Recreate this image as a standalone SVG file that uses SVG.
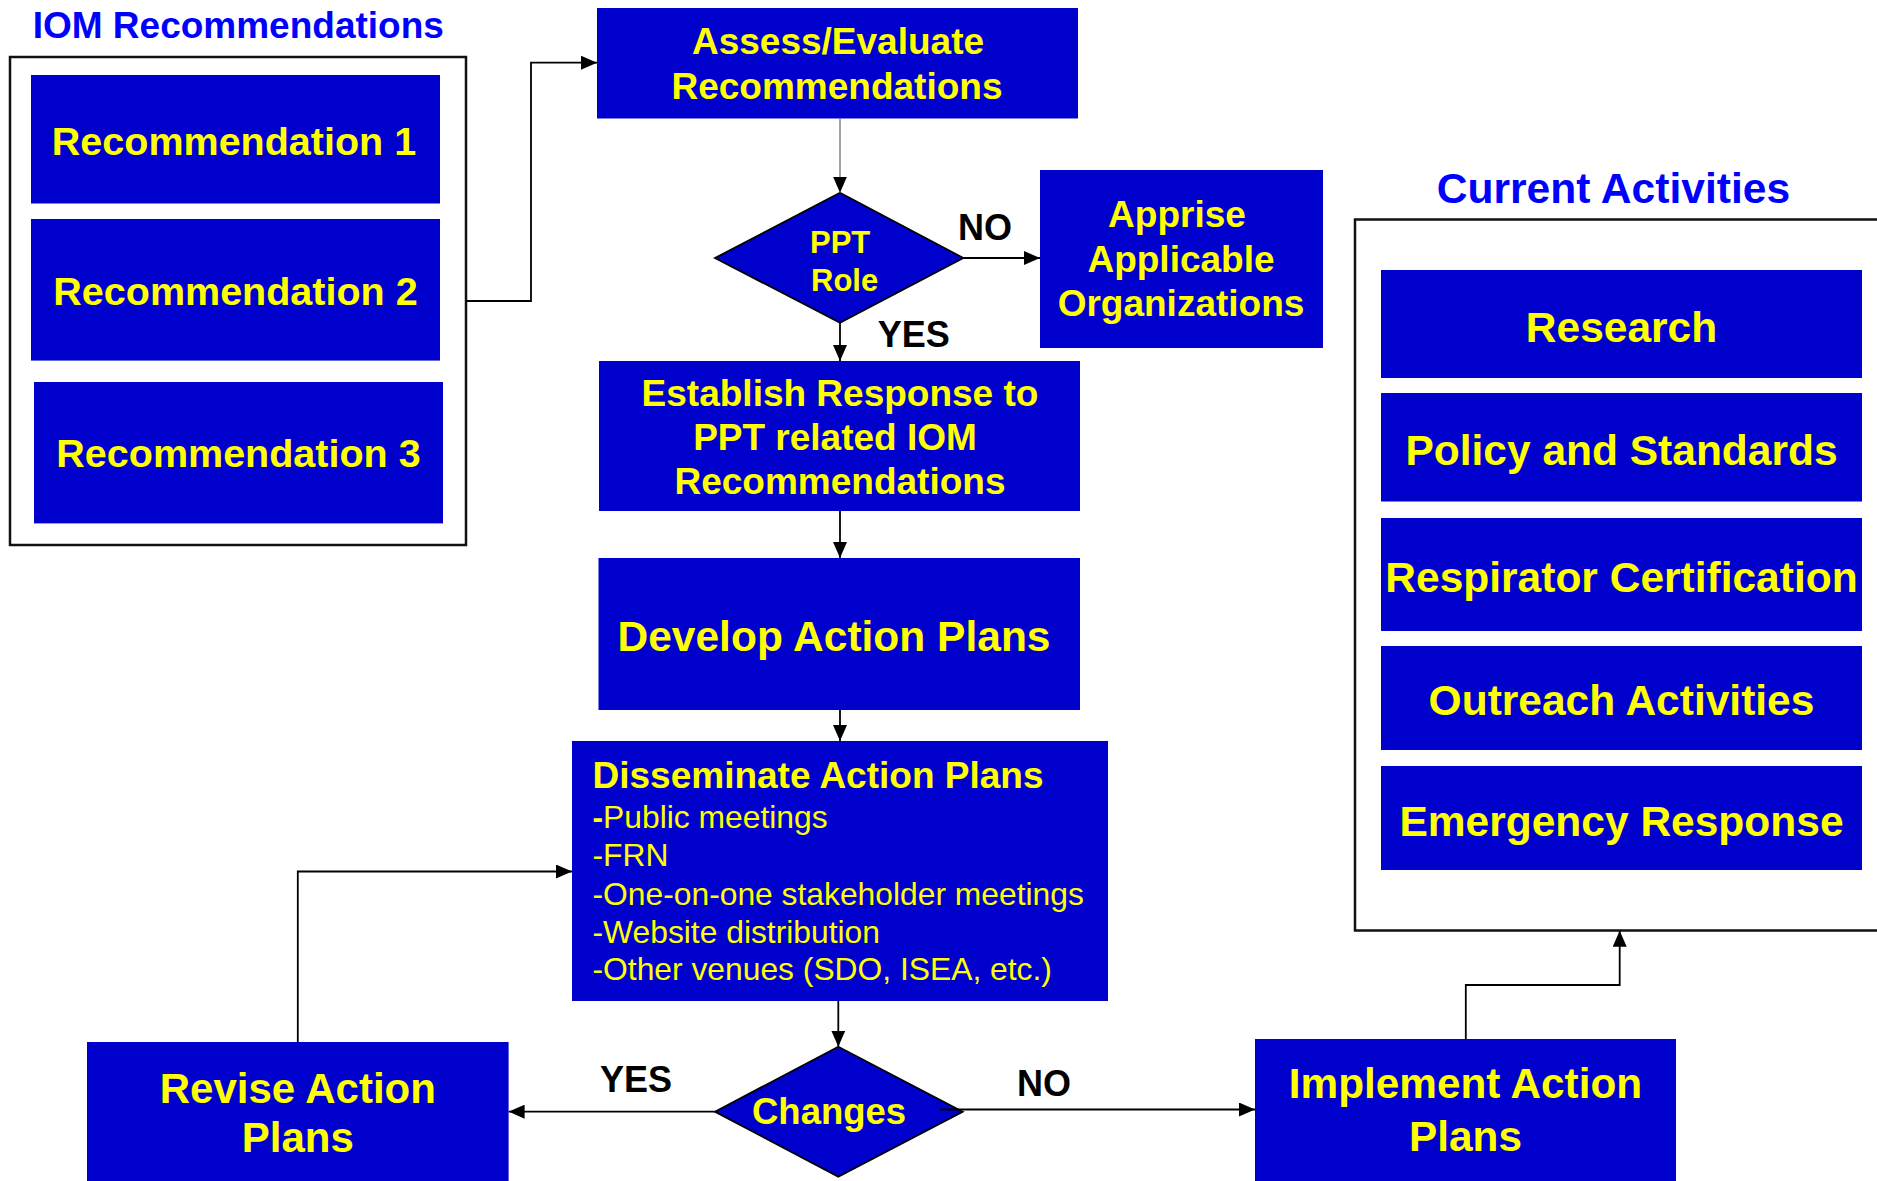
<svg xmlns="http://www.w3.org/2000/svg" width="1877" height="1181" viewBox="0 0 1877 1181">
<style>
text{font-family:"Liberation Sans",Arial,Helvetica,sans-serif;}
.node{fill:#0000CC;}
.frame{fill:none;stroke:#111;stroke-width:2.5;}
.yt{fill:#FFFF00;font-weight:bold;}
.c{text-anchor:middle;}
.title{fill:#0000FF;font-weight:bold;}
.lbl{fill:#000;font-weight:bold;font-size:36px;}
.bul{fill:#FFFF00;font-size:31.8px;}
.diam{fill:#0000CC;stroke:#000;stroke-width:1.8;}
.con{fill:none;stroke:#000;stroke-width:1.8;marker-end:url(#arr);}
</style>
<defs>
<marker id="arr" markerWidth="16" markerHeight="14" refX="16" refY="7" orient="auto" markerUnits="userSpaceOnUse">
<path d="M0,0 L16,7 L0,14 z" fill="#000"/>
</marker>
</defs>
<rect width="1877" height="1181" fill="#fff"/>

<g id="iom-recommendations">
<text class="title" x="32.7" y="38.3" font-size="37">IOM Recommendations</text>
<rect class="frame" x="10" y="57" width="456" height="488"/>
<g id="rec1"><rect class="node" x="31" y="75" width="409" height="128.5"/><text class="yt c" x="234" y="155" font-size="39.5">Recommendation 1</text></g>
<g id="rec2"><rect class="node" x="31" y="219" width="409" height="141.6"/><text class="yt c" x="235.5" y="305" font-size="39.5">Recommendation 2</text></g>
<g id="rec3"><rect class="node" x="34" y="382" width="409" height="141.4"/><text class="yt c" x="238.5" y="467" font-size="39.5">Recommendation 3</text></g>
</g>

<g id="assess"><rect class="node" x="597" y="8" width="481" height="110.5"/>
<text class="yt c" x="838" y="54" font-size="37">Assess/Evaluate</text>
<text class="yt c" x="837" y="99" font-size="37">Recommendations</text></g>

<g id="ppt-role"><polygon class="diam" points="840,192.7 963.3,258 840,322.7 715,258"/>
<text class="yt" x="810" y="252.7" font-size="31">PPT</text>
<text class="yt" x="811" y="290.7" font-size="31">Role</text></g>

<g id="apprise"><rect class="node" x="1040" y="170" width="283" height="178"/>
<text class="yt c" x="1177" y="227" font-size="37">Apprise</text>
<text class="yt c" x="1181" y="271.5" font-size="37">Applicable</text>
<text class="yt c" x="1181" y="316" font-size="37">Organizations</text></g>

<g id="establish"><rect class="node" x="599" y="361" width="481" height="150"/>
<text class="yt c" x="840" y="406" font-size="37">Establish Response to</text>
<text class="yt c" x="835" y="450" font-size="37">PPT related IOM</text>
<text class="yt c" x="840" y="494" font-size="37">Recommendations</text></g>

<g id="develop"><rect class="node" x="598.5" y="558" width="481.5" height="152"/>
<text class="yt c" x="834" y="650.5" font-size="42.5">Develop Action Plans</text></g>

<g id="disseminate"><rect class="node" x="572" y="741" width="536" height="260"/>
<text class="yt" x="592.5" y="788" font-size="37">Disseminate Action Plans</text>
<text class="bul" x="592.5" y="828"><tspan font-weight="bold">-</tspan>Public meetings</text>
<text class="bul" x="592.5" y="865.5">-FRN</text>
<text class="bul" x="592.5" y="904.5">-One-on-one stakeholder meetings</text>
<text class="bul" x="592.5" y="942.5">-Website distribution</text>
<text class="bul" x="592.5" y="980">-Other venues (SDO, ISEA, etc.)</text></g>

<g id="changes"><polygon class="diam" points="838.3,1046.7 962.7,1111.7 838.3,1176.7 715,1111.7"/>
<text class="yt" x="752" y="1123.5" font-size="36.5">Changes</text></g>

<g id="revise"><rect class="node" x="87" y="1042" width="421.6" height="145"/>
<text class="yt c" x="297.8" y="1103" font-size="42">Revise Action</text>
<text class="yt c" x="297.8" y="1152" font-size="42">Plans</text></g>

<g id="implement"><rect class="node" x="1255" y="1039" width="421" height="148"/>
<text class="yt c" x="1465.5" y="1098" font-size="42.3">Implement Action</text>
<text class="yt c" x="1465.5" y="1151" font-size="42.3">Plans</text></g>

<g id="current-activities">
<text class="title" x="1436.7" y="203.3" font-size="42.6">Current Activities</text>
<rect class="frame" x="1355" y="219.5" width="540" height="711"/>
<g id="research"><rect class="node" x="1381" y="270" width="481" height="108"/><text class="yt c" x="1621.5" y="342" font-size="42.5">Research</text></g>
<g id="policy"><rect class="node" x="1381" y="393" width="481" height="108.5"/><text class="yt c" x="1621.5" y="465" font-size="42.5">Policy and Standards</text></g>
<g id="respirator"><rect class="node" x="1381" y="518" width="481" height="113"/><text class="yt c" x="1621.5" y="592" font-size="42.5">Respirator Certification</text></g>
<g id="outreach"><rect class="node" x="1381" y="646" width="481" height="104"/><text class="yt c" x="1621.5" y="715" font-size="42.5">Outreach Activities</text></g>
<g id="emergency"><rect class="node" x="1381" y="766" width="481" height="104"/><text class="yt c" x="1621.5" y="835.5" font-size="42.5">Emergency Response</text></g>
</g>

<g id="connectors">
<path class="con" d="M466,301 H531 V62.7 H597"/>
<path d="M840,118.5 V192.7" fill="none" stroke="#666" stroke-width="1.2" marker-end="url(#arr)"/>
<path class="con" d="M963.3,258 H1040"/>
<path class="con" d="M840,322.7 V361"/>
<path class="con" d="M840,511 V558"/>
<path class="con" d="M840,710 V741"/>
<path class="con" d="M838.3,1001 V1046.7"/>
<path class="con" d="M715,1111.7 H508.6"/>
<path class="con" d="M940,1109.5 H1255"/>
<path class="con" d="M297.8,1042 V871.5 H572"/>
<path class="con" d="M1465.8,1039 V985 H1619.7 V930.7"/>
<text class="lbl" x="958" y="240">NO</text>
<text class="lbl" x="877.7" y="347">YES</text>
<text class="lbl" x="600" y="1092">YES</text>
<text class="lbl" x="1017" y="1096">NO</text>
</g>
</svg>
